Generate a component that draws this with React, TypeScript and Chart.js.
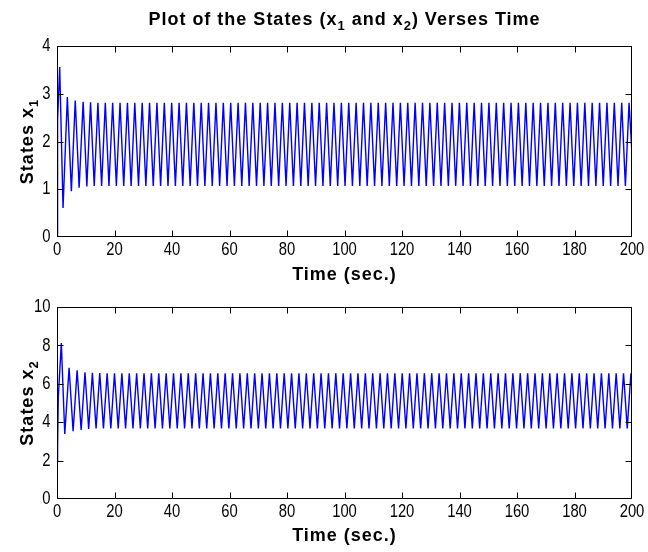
import React, { useEffect, useRef } from 'react';
import { Chart, registerables } from 'chart.js';

Chart.register(...registerables);

// ---- x1(t): local maxima and minima of the first state ----
const x1PeakTimes = [
  0.94, 3.6, 6.35, 9.1, 11.67, 14.23, 16.8, 19.36, 21.93, 24.5,
  27.06, 29.63, 32.19, 34.76, 37.33, 39.89, 42.46, 45.02, 47.59, 50.16,
  52.72, 55.29, 57.85, 60.42, 62.99, 65.55, 68.12, 70.68, 73.25, 75.82,
  78.38, 80.95, 83.51, 86.08, 88.65, 91.21, 93.78, 96.34, 98.91, 101.48,
  104.04, 106.61, 109.17, 111.74, 114.31, 116.87, 119.44, 122.0, 124.57, 127.14,
  129.7, 132.27, 134.83, 137.4, 139.97, 142.53, 145.1, 147.66, 150.23, 152.8,
  155.36, 157.93, 160.49, 163.06, 165.63, 168.19, 170.76, 173.32, 175.89, 178.46,
  181.02, 183.59, 186.15, 188.72, 191.29, 193.85, 196.42, 198.98,
];
const x1PeakValues = [
  3.56, 2.93, 2.86, 2.83, 2.82, 2.81, 2.81, 2.81, 2.81, 2.81,
  2.81, 2.81, 2.81, 2.81, 2.81, 2.81, 2.81, 2.81, 2.81, 2.81,
  2.81, 2.81, 2.81, 2.81, 2.81, 2.81, 2.81, 2.81, 2.81, 2.81,
  2.81, 2.81, 2.81, 2.81, 2.81, 2.81, 2.81, 2.81, 2.81, 2.81,
  2.81, 2.81, 2.81, 2.81, 2.81, 2.81, 2.81, 2.81, 2.81, 2.81,
  2.81, 2.81, 2.81, 2.81, 2.81, 2.81, 2.81, 2.81, 2.81, 2.81,
  2.81, 2.81, 2.81, 2.81, 2.81, 2.81, 2.81, 2.81, 2.81, 2.81,
  2.81, 2.81, 2.81, 2.81, 2.81, 2.81, 2.81, 2.81,
];
const x1TroughTimes = [
  2.1, 5.0, 7.7, 10.38, 12.95, 15.52, 18.08, 20.65, 23.21, 25.78,
  28.35, 30.91, 33.48, 36.04, 38.61, 41.18, 43.74, 46.31, 48.87, 51.44,
  54.01, 56.57, 59.14, 61.7, 64.27, 66.84, 69.4, 71.97, 74.53, 77.1,
  79.67, 82.23, 84.8, 87.36, 89.93, 92.5, 95.06, 97.63, 100.19, 102.76,
  105.33, 107.89, 110.46, 113.02, 115.59, 118.16, 120.72, 123.29, 125.85, 128.42,
  130.99, 133.55, 136.12, 138.68, 141.25, 143.82, 146.38, 148.95, 151.51, 154.08,
  156.65, 159.21, 161.78, 164.34, 166.91, 169.48, 172.04, 174.61, 177.17, 179.74,
  182.31, 184.87, 187.44, 190.0, 192.57, 195.14, 197.7,
];
const x1TroughValues = [
  0.61, 0.96, 1.03, 1.06, 1.07, 1.07, 1.07, 1.07, 1.07, 1.07,
  1.07, 1.07, 1.07, 1.07, 1.07, 1.07, 1.07, 1.07, 1.07, 1.07,
  1.07, 1.07, 1.07, 1.07, 1.07, 1.07, 1.07, 1.07, 1.07, 1.07,
  1.07, 1.07, 1.07, 1.07, 1.07, 1.07, 1.07, 1.07, 1.07, 1.07,
  1.07, 1.07, 1.07, 1.07, 1.07, 1.07, 1.07, 1.07, 1.07, 1.07,
  1.07, 1.07, 1.07, 1.07, 1.07, 1.07, 1.07, 1.07, 1.07, 1.07,
  1.07, 1.07, 1.07, 1.07, 1.07, 1.07, 1.07, 1.07, 1.07, 1.07,
  1.07, 1.07, 1.07, 1.07, 1.07, 1.07, 1.07,
];
// start of the run and the last sample at t = 200
const x1EdgeTimes = [0, 0.2, 200];
const x1EdgeValues = [0, 2.45, 1.75];

// ---- x2(t): local maxima and minima of the second state ----
const x2PeakTimes = [
  1.5, 4.2, 7.0, 9.74, 12.31, 14.87, 17.44, 20.0, 22.57, 25.14,
  27.7, 30.27, 32.83, 35.4, 37.97, 40.53, 43.1, 45.66, 48.23, 50.8,
  53.36, 55.93, 58.49, 61.06, 63.63, 66.19, 68.76, 71.32, 73.89, 76.46,
  79.02, 81.59, 84.15, 86.72, 89.29, 91.85, 94.42, 96.98, 99.55, 102.12,
  104.68, 107.25, 109.81, 112.38, 114.95, 117.51, 120.08, 122.64, 125.21, 127.78,
  130.34, 132.91, 135.47, 138.04, 140.61, 143.17, 145.74, 148.3, 150.87, 153.44,
  156.0, 158.57, 161.13, 163.7, 166.27, 168.83, 171.4, 173.96, 176.53, 179.1,
  181.66, 184.23, 186.79, 189.36, 191.93, 194.49, 197.06, 199.62,
];
const x2PeakValues = [
  8.12, 6.83, 6.7, 6.6, 6.57, 6.56, 6.55, 6.55, 6.55, 6.55,
  6.55, 6.55, 6.55, 6.55, 6.55, 6.55, 6.55, 6.55, 6.55, 6.55,
  6.55, 6.55, 6.55, 6.55, 6.55, 6.55, 6.55, 6.55, 6.55, 6.55,
  6.55, 6.55, 6.55, 6.55, 6.55, 6.55, 6.55, 6.55, 6.55, 6.55,
  6.55, 6.55, 6.55, 6.55, 6.55, 6.55, 6.55, 6.55, 6.55, 6.55,
  6.55, 6.55, 6.55, 6.55, 6.55, 6.55, 6.55, 6.55, 6.55, 6.55,
  6.55, 6.55, 6.55, 6.55, 6.55, 6.55, 6.55, 6.55, 6.55, 6.55,
  6.55, 6.55, 6.55, 6.55, 6.55, 6.55, 6.55, 6.55,
];
const x2TroughTimes = [
  2.7, 5.6, 8.4, 11.02, 13.59, 16.16, 18.72, 21.29, 23.85, 26.42,
  28.99, 31.55, 34.12, 36.68, 39.25, 41.82, 44.38, 46.95, 49.51, 52.08,
  54.65, 57.21, 59.78, 62.34, 64.91, 67.48, 70.04, 72.61, 75.17, 77.74,
  80.31, 82.87, 85.44, 88.0, 90.57, 93.14, 95.7, 98.27, 100.83, 103.4,
  105.97, 108.53, 111.1, 113.66, 116.23, 118.8, 121.36, 123.93, 126.49, 129.06,
  131.63, 134.19, 136.76, 139.32, 141.89, 144.46, 147.02, 149.59, 152.15, 154.72,
  157.29, 159.85, 162.42, 164.98, 167.55, 170.12, 172.68, 175.25, 177.81, 180.38,
  182.95, 185.51, 188.08, 190.64, 193.21, 195.78, 198.34,
];
const x2TroughValues = [
  3.39, 3.53, 3.6, 3.65, 3.67, 3.68, 3.68, 3.68, 3.68, 3.68,
  3.68, 3.68, 3.68, 3.68, 3.68, 3.68, 3.68, 3.68, 3.68, 3.68,
  3.68, 3.68, 3.68, 3.68, 3.68, 3.68, 3.68, 3.68, 3.68, 3.68,
  3.68, 3.68, 3.68, 3.68, 3.68, 3.68, 3.68, 3.68, 3.68, 3.68,
  3.68, 3.68, 3.68, 3.68, 3.68, 3.68, 3.68, 3.68, 3.68, 3.68,
  3.68, 3.68, 3.68, 3.68, 3.68, 3.68, 3.68, 3.68, 3.68, 3.68,
  3.68, 3.68, 3.68, 3.68, 3.68, 3.68, 3.68, 3.68, 3.68, 3.68,
  3.68, 3.68, 3.68, 3.68, 3.68, 3.68, 3.68,
];
const x2EdgeTimes = [0, 0.2, 0.45, 200];
const x2EdgeValues = [2.0, 2.7, 5.3, 5.6];

// ---- axes ----
const TIME_MIN = 0;
const TIME_MAX = 200;
const TIME_STEP = 20;
const X1_MIN = 0;
const X1_MAX = 4;
const X1_STEP = 1;
const X2_MIN = 0;
const X2_MAX = 10;
const X2_STEP = 2;

// ---- text ----
type Part = { text: string; sub?: boolean };
const TITLE_PARTS: Part[] = [
  { text: 'Plot of the States (x' },
  { text: '1', sub: true },
  { text: ' and x' },
  { text: '2', sub: true },
  { text: ') Verses Time' },
];
const X_LABEL: Part[] = [{ text: 'Time (sec.)' }];
const Y1_LABEL: Part[] = [{ text: 'States x' }, { text: '1', sub: true }];
const Y2_LABEL: Part[] = [{ text: 'States x' }, { text: '2', sub: true }];

const LINE_COLOR = '#0000ff';
const LABEL_FONT = 'bold 18px "Liberation Sans", Arial, sans-serif';
const SUB_FONT = 'bold 13px "Liberation Sans", Arial, sans-serif';
const TICK_FONT = '19px "Liberation Sans", Arial, sans-serif';
const TICK_SQUEEZE = 0.78; // tall, narrow tick digits
const TICK_LEN = 6;

function toPoints(...pairs: [number[], number[]][]) {
  const pts: { x: number; y: number }[] = [];
  pairs.forEach(([ts, vs]) => ts.forEach((t, i) => pts.push({ x: t, y: vs[i] })));
  return pts.sort((a, b) => a.x - b.x);
}

function drawParts(
  ctx: CanvasRenderingContext2D,
  parts: Part[],
  ox: number,
  oy: number,
  vertical: boolean
) {
  ctx.save();
  ctx.fillStyle = '#000';
  ctx.textBaseline = 'alphabetic';
  ctx.textAlign = 'left';
  (ctx as any).letterSpacing = '1px';
  const widths = parts.map((p) => {
    ctx.font = p.sub ? SUB_FONT : LABEL_FONT;
    return ctx.measureText(p.text).width;
  });
  const total = widths.reduce((a, b) => a + b, 0);
  ctx.translate(ox, oy);
  if (vertical) ctx.rotate(-Math.PI / 2);
  let cx = -total / 2;
  parts.forEach((p, i) => {
    ctx.font = p.sub ? SUB_FONT : LABEL_FONT;
    ctx.fillText(p.text, cx, p.sub ? 5 : 0);
    cx += widths[i];
  });
  ctx.restore();
}

function drawTickLabel(
  ctx: CanvasRenderingContext2D,
  text: string,
  x: number,
  y: number,
  align: CanvasTextAlign
) {
  ctx.save();
  ctx.font = TICK_FONT;
  ctx.fillStyle = '#000';
  ctx.textAlign = align;
  ctx.textBaseline = 'middle';
  ctx.translate(x, y);
  ctx.scale(TICK_SQUEEZE, 1);
  ctx.fillText(text, 0, 0);
  ctx.restore();
}

type Decor = {
  title?: Part[];
  titleBaseline?: number;
  xLabelBaseline: number;
  yLabel: Part[];
  yLabelBaselineX: number;
};

function makeDecor(d: Decor) {
  return {
    id: 'figureDecor',
    afterDatasetsDraw(chart: any) {
      const { ctx, chartArea } = chart;
      const xs = chart.scales.x;
      const ys = chart.scales.y;
      const l = Math.round(chartArea.left) + 0.5;
      const r = Math.round(chartArea.right) - 0.5;
      const t = Math.round(chartArea.top) + 0.5;
      const b = Math.round(chartArea.bottom) - 0.5;
      ctx.save();
      ctx.strokeStyle = '#000';
      ctx.lineWidth = 1;
      ctx.beginPath();
      ctx.rect(l, t, r - l, b - t);
      xs.ticks.forEach((_: any, i: number) => {
        const px = Math.min(Math.max(Math.round(xs.getPixelForTick(i)) + 0.5, l), r);
        ctx.moveTo(px, b);
        ctx.lineTo(px, b - TICK_LEN);
        ctx.moveTo(px, t);
        ctx.lineTo(px, t + TICK_LEN);
      });
      ys.ticks.forEach((_: any, i: number) => {
        const py = Math.min(Math.max(Math.round(ys.getPixelForTick(i)) + 0.5, t), b);
        ctx.moveTo(l, py);
        ctx.lineTo(l + TICK_LEN, py);
        ctx.moveTo(r, py);
        ctx.lineTo(r - TICK_LEN, py);
      });
      ctx.stroke();
      ctx.restore();

      // tick labels, placed from the scales' own ticks
      xs.ticks.forEach((tk: any, i: number) => {
        drawTickLabel(ctx, String(tk.label), xs.getPixelForTick(i), b + 13.5, 'center');
      });
      ys.ticks.forEach((tk: any, i: number) => {
        drawTickLabel(ctx, String(tk.label), l - 7, ys.getPixelForTick(i), 'right');
      });
    },
    afterDraw(chart: any) {
      const { ctx, chartArea } = chart;
      const midX = (chartArea.left + chartArea.right) / 2;
      const midY = (chartArea.top + chartArea.bottom) / 2;
      if (d.title && d.titleBaseline !== undefined) {
        drawParts(ctx, d.title, midX, d.titleBaseline, false);
      }
      drawParts(ctx, X_LABEL, midX, d.xLabelBaseline, false);
      drawParts(ctx, d.yLabel, d.yLabelBaselineX, midY, true);
    },
  };
}

function makeConfig(
  points: { x: number; y: number }[],
  yMin: number,
  yMax: number,
  yStep: number,
  padTop: number,
  xAxisHeight: number,
  decor: Decor
): any {
  return {
    type: 'line',
    data: {
      datasets: [
        {
          data: points,
          borderColor: LINE_COLOR,
          borderWidth: 1.4,
          pointRadius: 0,
          tension: 0,
          fill: false,
        },
      ],
    },
    options: {
      animation: false,
      responsive: false,
      events: [],
      layout: { padding: { top: padTop, left: 0, right: 16, bottom: 0 } },
      plugins: { legend: { display: false }, title: { display: false }, tooltip: { enabled: false } },
      scales: {
        x: {
          type: 'linear',
          min: TIME_MIN,
          max: TIME_MAX,
          grid: { display: false, drawTicks: false },
          border: { display: false },
          ticks: { stepSize: TIME_STEP, display: false, maxRotation: 0 },
          afterFit: (s: any) => {
            s.height = xAxisHeight;
          },
        },
        y: {
          type: 'linear',
          min: yMin,
          max: yMax,
          grid: { display: false, drawTicks: false },
          border: { display: false },
          ticks: { stepSize: yStep, display: false },
          afterFit: (s: any) => {
            s.width = 57;
          },
        },
      },
    },
    plugins: [makeDecor(decor)],
  };
}

export default function App() {
  const topRef = useRef<HTMLCanvasElement>(null);
  const bottomRef = useRef<HTMLCanvasElement>(null);

  useEffect(() => {
    const x1Points = toPoints(
      [x1EdgeTimes, x1EdgeValues],
      [x1PeakTimes, x1PeakValues],
      [x1TroughTimes, x1TroughValues]
    );
    const x2Points = toPoints(
      [x2EdgeTimes, x2EdgeValues],
      [x2PeakTimes, x2PeakValues],
      [x2TroughTimes, x2TroughValues]
    );
    const top = new Chart(
      topRef.current as HTMLCanvasElement,
      makeConfig(x1Points, X1_MIN, X1_MAX, X1_STEP, 46, 53, {
        title: TITLE_PARTS,
        titleBaseline: 25,
        xLabelBaseline: 280,
        yLabel: Y1_LABEL,
        yLabelBaselineX: 33,
      })
    );
    const bottom = new Chart(
      bottomRef.current as HTMLCanvasElement,
      makeConfig(x2Points, X2_MIN, X2_MAX, X2_STEP, 17, 53, {
        xLabelBaseline: 251,
        yLabel: Y2_LABEL,
        yLabelBaselineX: 33,
      })
    );
    return () => {
      top.destroy();
      bottom.destroy();
    };
  }, []);

  return (
    <div
      style={{
        position: 'fixed',
        left: 0,
        top: 0,
        width: 648,
        height: 552,
        background: '#fff',
      }}
    >
      <canvas
        ref={topRef}
        width={648}
        height={290}
        style={{ position: 'absolute', left: 0, top: 0, width: 648, height: 290 }}
      />
      <canvas
        ref={bottomRef}
        width={648}
        height={262}
        style={{ position: 'absolute', left: 0, top: 290, width: 648, height: 262 }}
      />
    </div>
  );
}
